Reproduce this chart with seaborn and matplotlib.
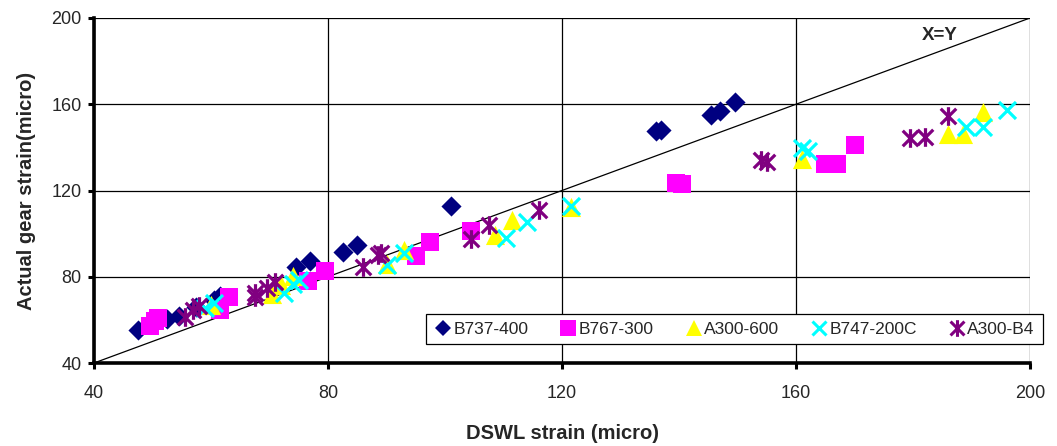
import numpy as np
import pandas as pd
import matplotlib
matplotlib.use("Agg")
import matplotlib.pyplot as plt
from matplotlib.path import Path
from matplotlib.lines import Line2D
import seaborn as sns

# ---- data ----
b737_x = [47.5, 52.5, 54.5, 57.5, 60.5, 61.5, 74.5, 77, 82.5, 85, 101, 136, 137, 145.5, 147, 149.5]
b737_y = [55.5, 60.5, 62, 66, 69, 71, 84.5, 87.5, 91.5, 94.5, 113, 147.5, 148, 155, 157, 161]

b767_x = [49.5, 50.5, 51, 61.5, 63, 76.5, 79.5, 95, 97.5, 104.5, 139.5, 140.5, 165, 167, 170]
b767_y = [57, 59.5, 61, 64.5, 70.5, 78, 82.5, 89.5, 96, 101, 123.5, 123, 132.5, 132.5, 141]

a300_600_x = [60, 70.5, 72, 74, 90, 93, 108.5, 111.5, 121.5, 161, 186, 188.5, 192]
a300_600_y = [67, 72, 76, 80.5, 86, 92.5, 99.5, 106.5, 112.5, 134.5, 146, 146, 156.5]

b747_x = [59, 60.5, 72.5, 74, 75, 90, 93, 110.5, 114, 121.5, 161, 162, 189, 192, 196]
b747_y = [65.5, 68, 72.5, 76.5, 78.5, 85.5, 91, 98, 105.5, 113, 139.5, 138.5, 149.5, 149.5, 157.5]

a300b4_x = [55.5, 57, 58, 67.5, 67.5, 69.5, 71, 86, 88.5, 89, 104.5, 107.5, 116, 154, 155, 179.5, 182, 186]
a300b4_y = [61.5, 64.5, 66.5, 70.5, 72.5, 75, 77.5, 84.5, 90, 91, 97.5, 104, 111, 134, 133, 144.5, 145, 154.5]

series_names = ["B737-400", "B767-300", "A300-600", "B747-200C", "A300-B4"]
ticks = [40, 80, 120, 160, 200]
xlabel = "DSWL strain (micro)"
ylabel = "Actual gear strain(micro)"
ref_label = "X=Y"

# ---- style ----
sns.set_theme(style="white")
plt.rcParams["font.family"] = ["Liberation Sans", "DejaVu Sans"]

# asterisk marker: X plus vertical bar
star_path = Path(
    [(-0.5, -0.5), (0.5, 0.5), (-0.5, 0.5), (0.5, -0.5), (0, -0.6), (0, 0.6)],
    [Path.MOVETO, Path.LINETO, Path.MOVETO, Path.LINETO, Path.MOVETO, Path.LINETO],
)

styles = {
    "B737-400": dict(marker="D", color="#000080", s=105, lw=0, filled=True, ms=8),
    "B767-300": dict(marker="s", color="#FF00FF", s=170, lw=0, filled=True, ms=11),
    "A300-600": dict(marker="^", color="#FFFF00", s=190, lw=0, filled=True, ms=12),
    "B747-200C": dict(marker="x", color="#00FFFF", s=150, lw=2.3, filled=False, ms=10),
    "A300-B4": dict(marker=star_path, color="#800080", s=180, lw=2.3, filled=False, ms=12),
}

data = {
    "B737-400": (b737_x, b737_y),
    "B767-300": (b767_x, b767_y),
    "A300-600": (a300_600_x, a300_600_y),
    "B747-200C": (b747_x, b747_y),
    "A300-B4": (a300b4_x, a300b4_y),
}

fig = plt.figure(figsize=(10.57, 4.46), dpi=100)
ax = fig.add_axes([94 / 1057, 1 - 363 / 446, (1030 - 94) / 1057, (363 - 18) / 446])

# reference line X=Y
ax.plot([40, 200], [40, 200], color="black", lw=0.9, zorder=2)

for name in series_names:
    st = styles[name]
    x, y = data[name]
    df = pd.DataFrame({"x": x, "y": y})
    if st["filled"]:
        sns.scatterplot(data=df, x="x", y="y", ax=ax, marker=st["marker"], color=st["color"],
                        s=st["s"], linewidth=0, zorder=3, legend=False)
    else:
        sns.scatterplot(data=df, x="x", y="y", ax=ax, marker=st["marker"], color=st["color"],
                        edgecolor=st["color"], facecolor=st["color"],
                        s=st["s"], linewidth=st["lw"], zorder=3, legend=False)

ax.set_xlim(40, 200)
ax.set_ylim(40, 200)
ax.set_xticks(ticks)
ax.set_yticks(ticks)
ax.grid(True, color="black", lw=0.9)
ax.set_axisbelow(True)

for side in ["top", "right"]:
    ax.spines[side].set_visible(False)
for side in ["left", "bottom"]:
    ax.spines[side].set_color("black")
    ax.spines[side].set_linewidth(2.6)
    ax.spines[side].set_zorder(4)

ax.tick_params(axis="both", which="major", length=4, width=2.2, color="black",
               direction="out", labelsize=13, bottom=True, left=True)
ax.tick_params(axis="x", pad=12)
ax.tick_params(axis="y", pad=5)

ax.set_xlabel(xlabel, fontsize=14.5, fontweight="bold", labelpad=16)
ax.set_ylabel(ylabel, fontsize=14.5, fontweight="bold", labelpad=11)

ax.text(184.5, 191.8, ref_label, fontsize=13.5, fontweight="bold", ha="center", va="center")

# legend
handles = []
for name in series_names:
    st = styles[name]
    if st["filled"]:
        h = Line2D([], [], ls="", marker=st["marker"], color=st["color"],
                   markersize=st["ms"], markeredgewidth=0)
    else:
        h = Line2D([], [], ls="", marker=st["marker"], color=st["color"],
                   markersize=st["ms"], markeredgewidth=2.2)
    handles.append(h)

leg = ax.legend(handles, series_names, loc="center", ncol=5,
                bbox_to_anchor=(734.5 / 1057, 1 - 329 / 446), bbox_transform=fig.transFigure,
                fontsize=12.5, frameon=True, fancybox=False, framealpha=1,
                edgecolor="black", handletextpad=0.1, columnspacing=1.8,
                handlelength=1.0, borderpad=0.45, borderaxespad=0)
leg.get_frame().set_linewidth(0.9)

fig.savefig("out.png", dpi=100)
